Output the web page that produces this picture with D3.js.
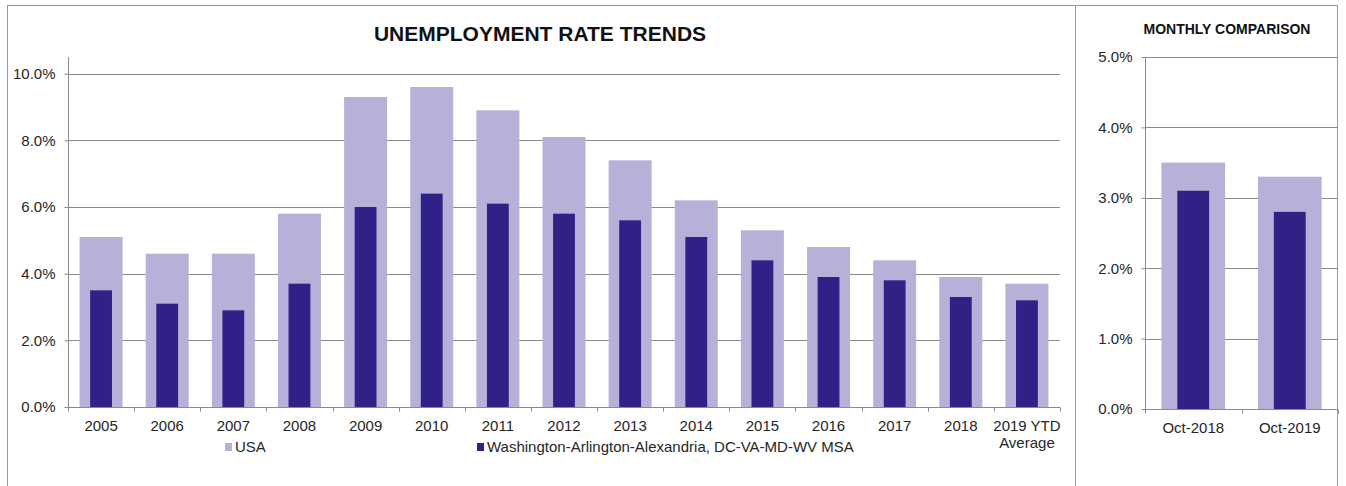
<!DOCTYPE html>
<html>
<head>
<meta charset="utf-8">
<script src="https://cdn.jsdelivr.net/npm/d3@7"></script>
<style>
  html, body { margin: 0; padding: 0; background: #fff; }
  svg { display: block; }
  text { font-family: "Liberation Sans", Arial, sans-serif; fill: #262626; }
</style>
</head>
<body>
<svg id="chart" width="1346" height="486"></svg>
<script>
// Annual unemployment rates (%)
const years = ["2005", "2006", "2007", "2008", "2009", "2010", "2011", "2012",
               "2013", "2014", "2015", "2016", "2017", "2018", "2019 YTD|Average"];
const usaAnnual = [5.1, 4.6, 4.6, 5.8, 9.3, 9.6, 8.9, 8.1, 7.4, 6.2, 5.3, 4.8, 4.4, 3.9, 3.7];
const msaAnnual = [3.5, 3.1, 2.9, 3.7, 6.0, 6.4, 6.1, 5.8, 5.6, 5.1, 4.4, 3.9, 3.8, 3.3, 3.2];
const annualTicks = [0, 2, 4, 6, 8, 10];

// Same-month comparison (%)
const months = ["Oct-2018", "Oct-2019"];
const usaMonthly = [3.5, 3.3];
const msaMonthly = [3.1, 2.8];
const monthlyTicks = [0, 1, 2, 3, 4, 5];

const seriesNames = ["USA", "Washington-Arlington-Alexandria, DC-VA-MD-WV MSA"];
const colors = { usa: "#b5b1d9", msa: "#2f2185" };
const gridColor = "#8a8a8a";

const svg = d3.select("#chart");

// Outer frame and panel divider
svg.append("rect").attr("x", 7.5).attr("y", 5.5).attr("width", 1330).attr("height", 490)
  .attr("fill", "none").attr("stroke", "#9a9a9a").attr("stroke-width", 1);
svg.append("line").attr("x1", 1075.5).attr("x2", 1075.5).attr("y1", 5).attr("y2", 486)
  .attr("stroke", "#9a9a9a");

function panel(opts) {
  const g = svg.append("g");
  const x = d3.scaleBand().domain(opts.cats).range([opts.left, opts.right]);
  const y = d3.scaleLinear().domain([0, opts.max]).range([opts.bottom, opts.top]);

  // horizontal gridlines
  g.append("g").selectAll("line").data(opts.ticks.filter(t => t > 0)).join("line")
    .attr("x1", opts.left).attr("x2", opts.right)
    .attr("y1", d => Math.round(y(d)) + 0.5).attr("y2", d => Math.round(y(d)) + 0.5)
    .attr("stroke", gridColor).attr("stroke-width", 1);

  const bw = x.bandwidth();
  const wide = bw * opts.wide, narrow = bw * opts.narrow;

  g.append("g").selectAll("rect").data(opts.cats).join("rect")
    .attr("x", d => x(d) + (bw - wide) / 2)
    .attr("width", wide)
    .attr("y", (d, i) => y(opts.usa[i]))
    .attr("height", (d, i) => y(0) - y(opts.usa[i]))
    .attr("fill", colors.usa);

  g.append("g").selectAll("rect").data(opts.cats).join("rect")
    .attr("x", d => x(d) + (bw - narrow) / 2)
    .attr("width", narrow)
    .attr("y", (d, i) => y(opts.msa[i]))
    .attr("height", (d, i) => y(0) - y(opts.msa[i]))
    .attr("fill", colors.msa);

  // y axis
  const yAxis = g.append("g").attr("transform", `translate(${opts.left + 0.5},0)`)
    .call(d3.axisLeft(y).tickValues(opts.ticks).tickSize(4).tickPadding(9)
      .tickFormat(d => d.toFixed(1) + "%"));
  yAxis.select(".domain").attr("stroke", gridColor).attr("d", `M-0,${opts.top}V${opts.bottom}`);
  yAxis.selectAll(".tick line").attr("stroke", gridColor);
  yAxis.selectAll(".tick text").attr("font-size", 15).style("fill", "#262626")
    .attr("font-family", "Liberation Sans, Arial, sans-serif");

  // x axis with ticks at category boundaries
  const xAxisG = g.append("g").attr("transform", `translate(0,${Math.round(opts.bottom) + 0.5})`);
  xAxisG.append("line").attr("x1", opts.left).attr("x2", opts.right)
    .attr("stroke", gridColor);
  const bounds = opts.cats.map(c => x(c)).concat([opts.right]);
  xAxisG.selectAll("line.tk").data(bounds).join("line").attr("class", "tk")
    .attr("x1", d => Math.round(d) + 0.5).attr("x2", d => Math.round(d) + 0.5)
    .attr("y1", 0).attr("y2", 4).attr("stroke", gridColor);
  const lab = xAxisG.selectAll("text").data(opts.cats).join("text")
    .attr("x", d => x(d) + bw / 2).attr("y", 23)
    .attr("text-anchor", "middle").attr("font-size", 15);
  lab.each(function(d) {
    const parts = d.split("|");
    const t = d3.select(this);
    parts.forEach((p, i) => t.append("tspan").attr("x", x(d) + bw / 2)
      .attr("dy", i === 0 ? 0 : 17).text(p));
  });

  g.append("text").attr("x", opts.titleX).attr("y", opts.titleY)
    .attr("text-anchor", "middle").attr("font-weight", "bold")
    .attr("font-size", opts.titleSize).style("fill", "#111").text(opts.title);
}

panel({
  cats: years, usa: usaAnnual, msa: msaAnnual, ticks: annualTicks, max: 10.5,
  left: 68, right: 1060, top: 57, bottom: 407, wide: 0.65, narrow: 0.33,
  title: "UNEMPLOYMENT RATE TRENDS", titleX: 540, titleY: 41, titleSize: 21
});

panel({
  cats: months, usa: usaMonthly, msa: msaMonthly, ticks: monthlyTicks, max: 5,
  left: 1145, right: 1338, top: 57, bottom: 409, wide: 0.66, narrow: 0.33,
  title: "MONTHLY COMPARISON", titleX: 1227, titleY: 34, titleSize: 14
});

// Legend
const legend = svg.append("g");
const legendItems = [
  { name: seriesNames[0], color: colors.usa, x: 225 },
  { name: seriesNames[1], color: colors.msa, x: 477 }
];
legendItems.forEach(it => {
  legend.append("rect").attr("x", it.x).attr("y", 443).attr("width", 7).attr("height", 8)
    .attr("fill", it.color);
  legend.append("text").attr("x", it.x + 10).attr("y", 452).attr("font-size", 15)
    .text(it.name);
});
</script>
</body>
</html>
